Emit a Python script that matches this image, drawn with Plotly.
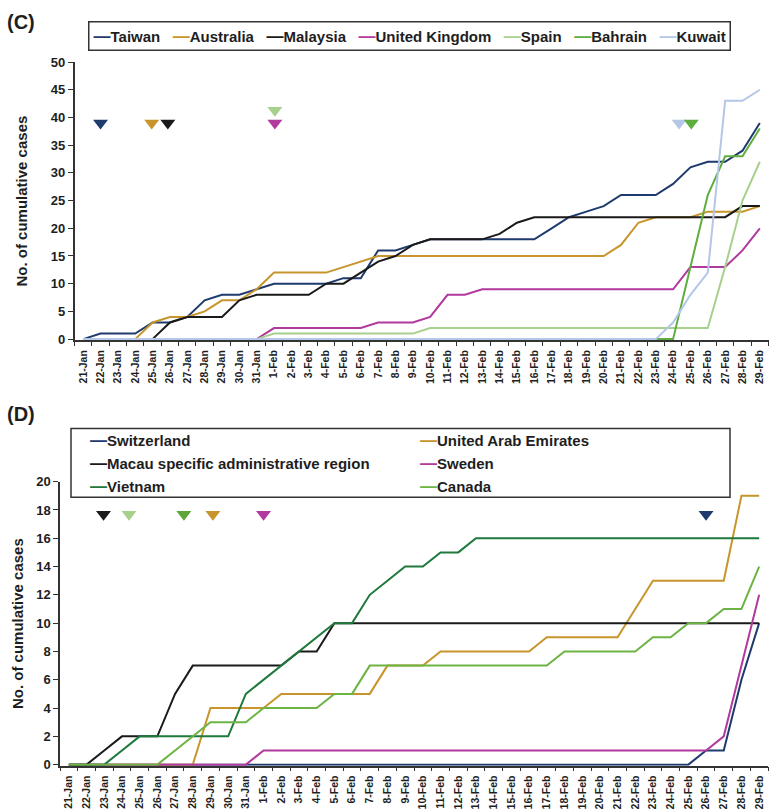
import plotly.graph_objects as go

W, H = 771, 809

dates = ["21-Jan", "22-Jan", "23-Jan", "24-Jan", "25-Jan", "26-Jan", "27-Jan", "28-Jan",
         "29-Jan", "30-Jan", "31-Jan", "1-Feb", "2-Feb", "3-Feb", "4-Feb", "5-Feb",
         "6-Feb", "7-Feb", "8-Feb", "9-Feb", "10-Feb", "11-Feb", "12-Feb", "13-Feb",
         "14-Feb", "15-Feb", "16-Feb", "17-Feb", "18-Feb", "19-Feb", "20-Feb", "21-Feb",
         "22-Feb", "23-Feb", "24-Feb", "25-Feb", "26-Feb", "27-Feb", "28-Feb", "29-Feb"]

# ---------- Panel C ----------
c_names = ["Taiwan", "Australia", "Malaysia", "United Kingdom", "Spain", "Bahrain", "Kuwait"]
c_colors = ["#1F3A6D", "#C8952C", "#1A1A1A", "#B2399E", "#A8D08D", "#5FAD3F", "#B4C7E7"]

taiwan = [0, 1, 1, 1, 3, 3, 4, 7, 8, 8, 9, 10, 10, 10, 10, 11, 11, 16, 16, 17,
          18, 18, 18, 18, 18, 18, 18, 20, 22, 23, 24, 26, 26, 26, 28, 31, 32, 32, 34, 39]
australia = [0, 0, 0, 0, 3, 4, 4, 5, 7, 7, 9, 12, 12, 12, 12, 13, 14, 15, 15, 15,
             15, 15, 15, 15, 15, 15, 15, 15, 15, 15, 15, 17, 21, 22, 22, 22, 23, 23, 23, 24]
malaysia = [0, 0, 0, 0, 0, 3, 4, 4, 4, 7, 8, 8, 8, 8, 10, 10, 12, 14, 15, 17,
            18, 18, 18, 18, 19, 21, 22, 22, 22, 22, 22, 22, 22, 22, 22, 22, 22, 22, 24, 24]
united_kingdom = [0, 0, 0, 0, 0, 0, 0, 0, 0, 0, 0, 2, 2, 2, 2, 2, 2, 3, 3, 3,
                  4, 8, 8, 9, 9, 9, 9, 9, 9, 9, 9, 9, 9, 9, 9, 13, 13, 13, 16, 20]
spain = [0, 0, 0, 0, 0, 0, 0, 0, 0, 0, 0, 1, 1, 1, 1, 1, 1, 1, 1, 1,
         2, 2, 2, 2, 2, 2, 2, 2, 2, 2, 2, 2, 2, 2, 2, 2, 2, 13, 25, 32]
bahrain = [0, 0, 0, 0, 0, 0, 0, 0, 0, 0, 0, 0, 0, 0, 0, 0, 0, 0, 0, 0,
           0, 0, 0, 0, 0, 0, 0, 0, 0, 0, 0, 0, 0, 0, 0, 13, 26, 33, 33, 38]
kuwait = [0, 0, 0, 0, 0, 0, 0, 0, 0, 0, 0, 0, 0, 0, 0, 0, 0, 0, 0, 0,
          0, 0, 0, 0, 0, 0, 0, 0, 0, 0, 0, 0, 0, 0, 3, 8, 12, 43, 43, 45]
c_series = [taiwan, australia, malaysia, united_kingdom, spain, bahrain, kuwait]

# first-case markers (position on date axis, height)
c_tri_x = [1.0, 3.95, 4.88, 11.05, 11.05, 34.35, 35.05]
c_tri_y = [39, 39, 39, 41.3, 39, 39, 39]
c_tri_colors = ["#1F3A6D", "#C8952C", "#1A1A1A", "#A8D08D", "#B2399E", "#B4C7E7", "#5FAD3F"]

# ---------- Panel D ----------
d_names = ["Switzerland", "United Arab Emirates", "Macau specific administrative region",
           "Sweden", "Vietnam", "Canada"]
d_colors = ["#1F3A6D", "#C8952C", "#1A1A1A", "#B2399E", "#1E7A3C", "#6DB444"]

switzerland = [0, 0, 0, 0, 0, 0, 0, 0, 0, 0, 0, 0, 0, 0, 0, 0, 0, 0, 0, 0,
               0, 0, 0, 0, 0, 0, 0, 0, 0, 0, 0, 0, 0, 0, 0, 0, 1, 1, 6, 10]
uae = [0, 0, 0, 0, 0, 0, 0, 0, 4, 4, 4, 4, 5, 5, 5, 5, 5, 5, 7, 7,
       7, 8, 8, 8, 8, 8, 8, 9, 9, 9, 9, 9, 11, 13, 13, 13, 13, 13, 19, 19]
macau = [0, 0, 1, 2, 2, 2, 5, 7, 7, 7, 7, 7, 7, 8, 8, 10, 10, 10, 10, 10,
         10, 10, 10, 10, 10, 10, 10, 10, 10, 10, 10, 10, 10, 10, 10, 10, 10, 10, 10, 10]
sweden = [0, 0, 0, 0, 0, 0, 0, 0, 0, 0, 0, 1, 1, 1, 1, 1, 1, 1, 1, 1,
          1, 1, 1, 1, 1, 1, 1, 1, 1, 1, 1, 1, 1, 1, 1, 1, 1, 2, 7, 12]
vietnam = [0, 0, 0, 1, 2, 2, 2, 2, 2, 2, 5, 6, 7, 8, 9, 10, 10, 12, 13, 14,
           14, 15, 15, 16, 16, 16, 16, 16, 16, 16, 16, 16, 16, 16, 16, 16, 16, 16, 16, 16]
canada = [0, 0, 0, 0, 0, 0, 1, 2, 3, 3, 3, 4, 4, 4, 4, 5, 5, 7, 7, 7,
          7, 7, 7, 7, 7, 7, 7, 7, 8, 8, 8, 8, 8, 9, 9, 10, 10, 11, 11, 14]
d_series = [switzerland, uae, macau, sweden, vietnam, canada]

d_tri_x = [1.96, 3.4, 6.5, 8.14, 11.0, 36.0]
d_tri_y = [17.7, 17.7, 17.7, 17.7, 17.7, 17.7]
d_tri_colors = ["#1A1A1A", "#A8D08D", "#5DA63A", "#C8952C", "#B2399E", "#1F3A6D"]

# ---------- figure ----------
FONT = "Liberation Sans, Arial, Helvetica, sans-serif"
AX = "#333333"
TXT = "#1E1E1E"
xidx = list(range(len(dates)))

fig = go.Figure()
for name, col, ys in zip(c_names, c_colors, c_series):
    fig.add_trace(go.Scatter(x=xidx, y=ys, mode="lines", name=name,
                             line=dict(color=col, width=2), showlegend=False,
                             xaxis="x", yaxis="y"))
fig.add_trace(go.Scatter(x=c_tri_x, y=c_tri_y, mode="markers", showlegend=False,
                         marker=dict(symbol="triangle-down", size=13, color=c_tri_colors,
                                     line=dict(width=0)),
                         xaxis="x", yaxis="y", hoverinfo="skip"))
for name, col, ys in zip(d_names, d_colors, d_series):
    fig.add_trace(go.Scatter(x=xidx, y=ys, mode="lines", name=name,
                             line=dict(color=col, width=2), showlegend=False,
                             xaxis="x2", yaxis="y2"))
fig.add_trace(go.Scatter(x=d_tri_x, y=d_tri_y, mode="markers", showlegend=False,
                         marker=dict(symbol="triangle-down", size=13, color=d_tri_colors,
                                     line=dict(width=0)),
                         xaxis="x2", yaxis="y2", hoverinfo="skip"))


def px_x(v):
    return v / W


def px_y(v):
    return 1 - v / H


def xaxis_cfg(left, right, anchor):
    return dict(domain=[px_x(left), px_x(right)], anchor=anchor, range=[-0.5, len(dates) - 0.5],
                tickmode="array", tickvals=xidx, ticktext=dates, tickangle=-90,
                ticks="outside", ticklen=4, tickcolor="rgba(0,0,0,0)",
                tickfont=dict(family=FONT, size=10.5, color=TXT, weight="bold"),
                showline=True, linecolor=AX, linewidth=1.5, showgrid=False, zeroline=False,
                minor=dict(tickmode="array", tickvals=[k - 0.5 for k in range(len(dates) + 1)],
                           ticks="outside", ticklen=4, tickcolor=AX, tickwidth=1, showgrid=False),
                fixedrange=True)


def yaxis_cfg(top, bottom, anchor, rng, dtick, standoff):
    return dict(domain=[px_y(bottom), px_y(top)], anchor=anchor, range=rng,
                tickmode="linear", tick0=0, dtick=dtick, ticks="outside", ticklen=5,
                tickcolor=AX, tickwidth=1.2,
                tickfont=dict(family=FONT, size=13, color=TXT, weight="bold"),
                showline=True, linecolor=AX, linewidth=1.5, showgrid=False, zeroline=False,
                title=dict(text="No. of cumulative cases", standoff=standoff,
                           font=dict(family=FONT, size=15, color=TXT, weight="bold")),
                fixedrange=True)


annotations = []
shapes = []

# panel letters
annotations.append(dict(text="(C)", x=px_x(5), y=px_y(15), xref="paper", yref="paper",
                        xanchor="left", yanchor="middle", showarrow=False,
                        font=dict(family=FONT, size=20, color=TXT, weight="bold")))
annotations.append(dict(text="(D)", x=px_x(5), y=px_y(414), xref="paper", yref="paper",
                        xanchor="left", yanchor="middle", showarrow=False,
                        font=dict(family=FONT, size=20, color=TXT, weight="bold")))


def swatch(color):
    return f"<span style='color:{color};font-size:17px'>\u2014</span>"


# legend for panel C (single bordered row)
sep = "\u00a0\u00a0\u00a0"
c_leg = sep.join(swatch(c) + n for n, c in zip(c_names, c_colors))
annotations.append(dict(text=c_leg, x=px_x(88), y=px_y(14), xref="paper", yref="paper",
                        xanchor="left", yanchor="top", showarrow=False, align="left",
                        bordercolor=AX, borderwidth=1.5, borderpad=4, bgcolor="white",
                        font=dict(family=FONT, size=15, color=TXT, weight="bold")))

# legend for panel D (two columns, three rows)
shapes.append(dict(type="rect", xref="paper", yref="paper",
                   x0=px_x(71), x1=px_x(730), y0=px_y(499), y1=px_y(429),
                   line=dict(color=AX, width=1.5), fillcolor="white", layer="above"))
col_x = [88, 418]
row_y = [441, 464.5, 488]
for k, (n, c) in enumerate(zip(d_names, d_colors)):
    annotations.append(dict(text=swatch(c) + n,
                            x=px_x(col_x[k % 2]), y=px_y(row_y[k // 2]),
                            xref="paper", yref="paper", xanchor="left", yanchor="middle",
                            showarrow=False,
                            font=dict(family=FONT, size=15, color=TXT, weight="bold")))

fig.update_layout(
    width=W, height=H, margin=dict(l=0, r=0, t=0, b=0),
    paper_bgcolor="white", plot_bgcolor="white",
    font=dict(family=FONT, color=TXT),
    xaxis=xaxis_cfg(74.5, 768.5, "y"),
    yaxis=yaxis_cfg(56, 339.1, "x", [-0.2, 50], 5, 19),
    xaxis2=xaxis_cfg(60, 768, "y2"),
    yaxis2=yaxis_cfg(483, 772, "x2", [-0.07, 20], 2, 9),
    annotations=annotations, shapes=shapes, showlegend=False,
)

fig.write_html("out.html", config={"displayModeBar": False},
               post_script="document.body.style.margin='0';")
